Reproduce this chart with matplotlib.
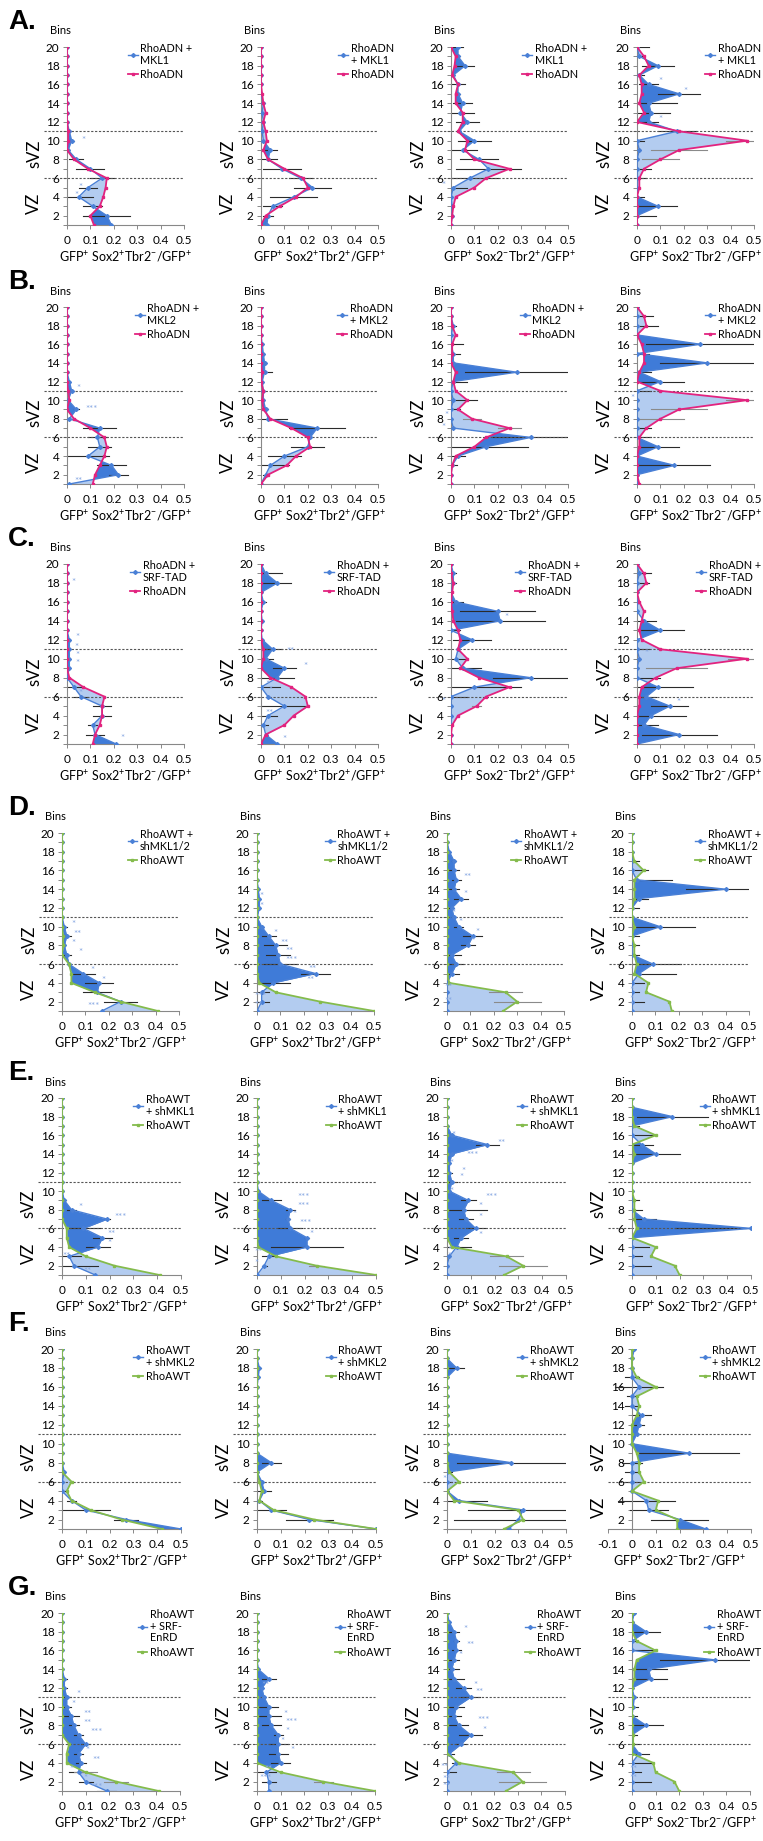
import numpy as np
import matplotlib
matplotlib.use('Agg')
import matplotlib.pyplot as plt
import matplotlib.transforms as mtransforms
from matplotlib.lines import Line2D

plt.rcParams['font.family'] = ['Lato', 'DejaVu Sans']
plt.rcParams['mathtext.fontset'] = 'custom'
plt.rcParams['mathtext.rm'] = 'Lato'
plt.rcParams['mathtext.default'] = 'regular'

# bins are listed top (20) to bottom (1)
bins = list(range(20, 0, -1))

xlabels = ['GFP$^{+}$ Sox2$^{+}$Tbr2$^{-}$/GFP$^{+}$',
           'GFP$^{+}$ Sox2$^{+}$Tbr2$^{+}$/GFP$^{+}$',
           'GFP$^{+}$ Sox2$^{-}$Tbr2$^{+}$/GFP$^{+}$',
           'GFP$^{+}$ Sox2$^{-}$Tbr2$^{-}$/GFP$^{+}$']
row_letters = ['A.', 'B.', 'C.', 'D.', 'E.', 'F.', 'G.']

# legend labels per row (treatment), per column
treat_labels = [
    ['RhoADN +\nMKL1', 'RhoADN\n+ MKL1', 'RhoADN +\nMKL1', 'RhoADN\n+ MKL1'],
    ['RhoADN +\nMKL2', 'RhoADN\n+ MKL2', 'RhoADN +\nMKL2', 'RhoADN\n+ MKL2'],
    ['RhoADN +\nSRF-TAD'] * 4,
    ['RhoAWT +\nshMKL1/2'] * 4,
    ['RhoAWT\n+ shMKL1'] * 4,
    ['RhoAWT\n+ shMKL2'] * 4,
    ['RhoAWT\n+ SRF-\nEnRD'] * 4,
]
ctrl_labels = ['RhoADN', 'RhoADN', 'RhoADN', 'RhoAWT', 'RhoAWT', 'RhoAWT', 'RhoAWT']

# ---------------- row A : RhoADN + MKL1 ----------------
A1_treat = [0,0,0,0,0,0,0,0,0,0.01,0.02,0.005,0.04,0.1,0.15,0.09,0.05,0.11,0.17,0.19]
A1_ctrl = [0,0,0,0,0,0,0,0,0,0.005,0.005,0,0.03,0.09,0.17,0.165,0.155,0.14,0.1,0.115]
A1_err = [0,0,0,0,0,0,0,0,0,0.005,0.01,0,0.03,0.06,0.05,0.04,0.06,0.04,0.1,0]
A1_stars = [(10, 0.06, '*'), (5, 0.05, '*'), (4.2, 0.03, '*')]

A2_treat = [0,0,0,0,0,0,0.01,0.005,0.01,0.005,0.01,0.04,0.03,0.09,0.17,0.22,0.14,0.05,0.03,0.025]
A2_ctrl = [0,0,0,0,0,0.005,0.01,0.02,0.01,0.02,0.025,0.01,0.03,0.1,0.18,0.2,0.15,0.08,0.02,0]
A2_err = [0,0,0,0,0,0,0.005,0.005,0,0,0,0.03,0.04,0.08,0.05,0.08,0.1,0.04,0.02,0]
A2_stars = []

A3_treat = [0.03,0.03,0.06,0.01,0.03,0.03,0.05,0.04,0.07,0.035,0.1,0.05,0.12,0.16,0.08,0.01,0,0.005,0.005,0]
A3_ctrl = [0,0.02,0.015,0.005,0.03,0.02,0.02,0.05,0.05,0.03,0.07,0.06,0.1,0.25,0.15,0.1,0.02,0.01,0.005,0]
A3_err = [0.02,0.01,0.04,0,0.03,0.01,0.04,0.06,0.05,0,0.07,0.06,0.08,0.14,0.12,0.06,0,0,0,0]
A3_stars = [(5.2, -0.04, '*')]

A4_treat = [0,0.01,0.09,0.01,0.05,0.18,0.05,0.06,0.05,0.17,0,0.01,0,0,0,0,0,0.09,0,0]
A4_ctrl = [0,0.03,0.05,0.01,0.02,0.02,0.01,0.03,0,0.18,0.47,0.18,0.1,0.03,0.01,0.01,0,0,0,0]
A4_err = [0.05,0.02,0.07,0.02,0.04,0.09,0.12,0.08,0.04,0.08,0.03,0,0,0.06,0.04,0,0.03,0.08,0.08,0]
A4_ctrl_err = {10: 0.09, 9: 0.12, 8: 0.08}
A4_stars = [(16.3, 0.09, '*'), (15.3, 0.2, '*'), (12.3, 0.09, '*')]

# ---------------- row B : RhoADN + MKL2 ----------------
B1_treat = [0,0,0,0,0,0,0,0,0.01,0.02,0.005,0.04,0.01,0.14,0.13,0.14,0.09,0.19,0.22,0.01]
B1_ctrl = [0,0,0,0,0,0,0,0,0,0.005,0.01,0,0.03,0.1,0.16,0.17,0.16,0.14,0.12,0.11]
B1_err = [0,0,0,0,0,0,0,0,0,0.01,0,0.01,0.02,0.07,0.04,0.05,0.09,0.06,0.04,0]
B1_stars = [(11.2, 0.04, '*'), (9, 0.08, '***'), (1.3, 0.03, '**')]

B2_treat = [0,0,0,0,0.005,0.01,0.015,0.015,0.005,0.01,0.01,0.02,0.03,0.24,0.21,0.2,0.1,0.04,0.02,0]
B2_ctrl = [0,0,0,0,0,0,0,0.005,0,0.01,0.005,0.01,0.04,0.13,0.2,0.21,0.15,0.11,0.03,0]
B2_err = [0,0,0,0,0,0,0.005,0.03,0,0,0,0.01,0.08,0.12,0,0.07,0.07,0.08,0.01,0]
B2_stars = []

B3_treat = [0,0,0.01,0,0,0.01,0.01,0.28,0.01,0,0.01,0,0,0.01,0.34,0.15,0.03,0.005,0,0]
B3_ctrl = [0,0,0.005,0.02,0.005,0.005,0,0.02,0.01,0.02,0.07,0.03,0.09,0.25,0.15,0.1,0.02,0.005,0,0]
B3_err = [0,0,0.01,0,0.05,0.03,0,0.22,0.06,0,0.1,0.04,0,0,0.16,0.18,0.03,0.02,0,0]
B3_ctrl_err = {8: 0.04, 7: 0.05}
B3_stars = [(8.3, -0.03, '*'), (7.1, -0.04, '*')]

B4_treat = [0,0,0,0,0.27,0,0.3,0.01,0.1,0,0,0,0,0,0,0.09,0,0.16,0,0]
B4_ctrl = [0,0.03,0.04,0,0.02,0.03,0.03,0.01,0,0.1,0.47,0.18,0.1,0.04,0.01,0.01,0,0,0,0.01]
B4_err = [0,0.07,0.09,0,0.23,0.05,0.2,0.05,0.1,0.06,0,0,0,0.06,0.06,0.09,0,0.15,0,0]
B4_ctrl_err = {10: 0.09, 9: 0.12, 8: 0.1}
B4_stars = [(10.2, -0.03, '*')]

# ---------------- row C : RhoADN + SRF-TAD ----------------
C1_treat = [0,0,0,0,0,0,0,0,0.01,0.01,0.01,0.01,0,0.03,0.06,0.15,0.15,0.11,0.12,0.21]
C1_ctrl = [0,0,0,0,0,0,0,0,0,0,0,0,0.01,0.07,0.16,0.15,0.15,0.14,0.12,0.11]
C1_err = [0,0,0,0,0,0,0,0,0,0,0,0,0,0.03,0.03,0.04,0.04,0.02,0.04,0]
C1_stars = [(18, 0.02, '*'), (12.2, 0.035, '*'), (11.2, 0.03, '*'), (10.3, 0.035, '*'),
            (9.5, 0.035, '*'), (6.3, 0.05, '*'), (1.6, 0.23, '*')]

C2_treat = [0,0.02,0.07,0,0.01,0,0.005,0,0.005,0.05,0.02,0.1,0.07,0,0.03,0.1,0.03,0.01,0.02,0.07]
C2_ctrl = [0,0,0,0,0,0,0,0,0,0.01,0.01,0,0.04,0.13,0.19,0.2,0.14,0.1,0.02,0]
C2_err = [0,0.07,0.06,0,0.01,0,0,0,0,0.04,0.03,0.05,0.07,0.08,0,0.1,0.04,0.02,0,0]
C2_stars = [(10.8, 0.11, '**'), (9.2, 0.18, '*'), (7.3, 0.02, '*'), (6.6, 0.03, '*'),
            (4.2, 0.02, '**'), (1.5, 0.09, '*')]

C3_treat = [0,0.01,0.01,0,0.02,0.2,0.21,0,0.09,0.03,0.02,0.05,0.34,0.1,0,0,0,0,0,0]
C3_ctrl = [0,0,0.01,0.005,0,0.005,0.01,0.03,0.04,0.03,0.07,0.04,0.12,0.25,0.15,0.11,0.03,0.005,0,0]
C3_err = [0,0.01,0.01,0,0.03,0.16,0.19,0.04,0.08,0,0.05,0.08,0.16,0.2,0.07,0,0,0,0,0]
C3_ctrl_err = {5: 0.02}
C3_stars = [(14.3, 0.23, '*'), (5.5, -0.04, '*')]

C4_treat = [0,0.01,0,0,0,0,0.03,0.1,0,0,0.01,0,0,0.09,0.04,0.14,0.06,0.03,0.18,0]
C4_ctrl = [0,0.03,0.04,0,0.01,0.03,0.02,0.01,0.02,0.1,0.47,0.17,0.08,0.02,0.01,0.01,0,0,0,0]
C4_err = [0,0.05,0.05,0,0,0,0.05,0.1,0,0.05,0,0,0.1,0.15,0.04,0.08,0.15,0.06,0.16,0]
C4_ctrl_err = {10: 0.08, 9: 0.13}
C4_stars = [(10.5, 0.03, '*'), (5.4, 0.17, '*')]

# ---------------- row D : RhoAWT + shMKL1/2 ----------------
D1_treat = [0,0,0,0,0,0,0,0,0,0,0.01,0.02,0.01,0.02,0.03,0.09,0.16,0.15,0.25,0.17]
D1_ctrl = [0,0,0,0,0,0,0,0,0,0,0,0.005,0.005,0,0.03,0.04,0.04,0.14,0.25,0.41]
D1_err = [0,0,0,0,0,0,0,0,0,0,0.01,0.02,0,0.02,0,0.05,0.06,0.06,0.07,0]
D1_stars = [(10.2, 0.04, '*'), (9.2, 0.05, '**'), (8.2, 0.04, '*'), (7.2, 0.07, '*'),
            (5.3, 0.12, '*'), (4.3, 0.17, '*'), (1.5, 0.11, '***')]

D2_treat = [0,0,0,0,0,0,0.005,0.01,0.01,0,0.02,0.05,0.08,0.09,0.1,0.25,0.07,0.02,0.02,0]
D2_ctrl = [0,0,0,0,0,0,0,0,0,0,0,0,0,0,0,0,0.01,0.08,0.27,0.5]
D2_err = [0,0,0,0,0,0,0,0,0,0,0,0.03,0.05,0.05,0.07,0.06,0.07,0.03,0.03,0]
D2_stars = [(13.2, 0.01, '*'), (12.2, 0.01, '*'), (9.3, 0.07, '*'), (8.2, 0.1, '**'),
            (7.3, 0.12, '**'), (6.4, 0.12, '***'), (5.4, 0.22, '**'), (4.3, 0.21, '**'),
            (2.6, -0.01, '***'), (1.6, -0.01, '**')]

D3_treat = [0,0,0.01,0.03,0.03,0.04,0.03,0.06,0.02,0.03,0.05,0.11,0.09,0.02,0.04,0.02,0,0,0,0]
D3_ctrl = [0,0,0,0,0,0,0,0,0,0,0,0,0,0,0,0,0.01,0.25,0.3,0.24]
D3_err = [0,0,0,0.01,0.02,0.02,0.02,0.03,0.01,0,0.02,0.04,0.03,0.04,0.03,0.03,0.01,0,0,0]
D3_ctrl_err = {3: 0.07, 2: 0.1}
D3_stars = [(15.3, 0.07, '**'), (13.4, 0.07, '*'), (11.4, 0.02, '*'), (10.4, 0.05, '*'),
            (9.4, 0.12, '*'), (8.4, 0.1, '*'), (3.5, -0.01, '**'), (2, -0.01, '**')]

D4_treat = [0,0,0,0,0,0.02,0.4,0.03,0,0,0.12,0,0,0,0.09,0.03,0,0,0,0]
D4_ctrl = [0,0,0,0.01,0.05,0.01,0.01,0.01,0,0,0.01,0,0.01,0.01,0.02,0.01,0.07,0.06,0.16,0.17]
D4_err = [0,0,0,0.03,0.07,0.15,0.17,0.04,0.03,0,0.15,0.03,0.03,0.03,0.12,0.16,0.05,0.03,0.05,0]
D4_stars = [(3.2, -0.01, '*'), (2.2, -0.01, '*'), (1.6, -0.01, '*')]

# ---------------- row E : RhoAWT + shMKL1 ----------------
E1_treat = [0,0,0,0,0,0,0,0,0,0,0,0.01,0.04,0.19,0.09,0.17,0.15,0.03,0.05,0.14]
E1_ctrl = [0,0,0,0,0,0,0,0,0,0,0,0,0,0,0.02,0.02,0.03,0.1,0.22,0.41]
E1_err = [0,0,0,0,0,0,0,0,0,0,0,0.005,0.02,0.01,0.07,0.04,0.05,0.05,0.1,0]
E1_stars = [(8.2, 0.07, '*'), (7.2, 0.22, '***'), (5.3, 0.19, '**'), (4.4, 0.19, '*'),
            (3, 0.0, '**'), (1.4, 0.09, '**')]

E2_treat = [0,0,0,0,0,0,0,0,0,0,0.005,0.06,0.14,0.13,0.14,0.21,0.21,0.05,0.03,0]
E2_ctrl = [0,0,0,0,0,0,0,0,0,0,0,0,0,0,0,0,0.005,0.08,0.25,0.5]
E2_err = [0,0,0,0,0,0,0,0,0,0,0,0.04,0.02,0.01,0.05,0.01,0.15,0.03,0.01,0]
E2_ctrl_err = {2: 0.03}
E2_stars = [(9.3, 0.17, '***'), (8.3, 0.17, '***'), (7.5, 0.15, '*'), (6.5, 0.18, '***'),
            (5.4, 0.22, '*'), (3.4, -0.01, '**'), (2.2, -0.01, '*')]

E3_treat = [0,0,0,0,0.02,0.17,0.02,0.01,0.01,0.02,0.01,0.09,0.07,0.08,0.12,0.06,0.04,0.01,0,0]
E3_ctrl = [0,0,0,0,0,0,0,0,0,0,0,0,0,0,0,0,0.02,0.25,0.32,0.24]
E3_err = [0,0,0,0,0,0.05,0,0,0.01,0.02,0,0.03,0.1,0.03,0.04,0.03,0.06,0,0,0]
E3_ctrl_err = {3: 0.07, 2: 0.1}
E3_stars = [(16, 0.02, '*'), (15.1, 0.21, '**'), (13.8, 0.08, '***'), (13, 0.01, '*'),
            (12.1, 0.06, '*'), (11.5, 0.05, '*'), (10, 0.01, '*'), (9.3, 0.16, '***'),
            (8.3, 0.13, '*'), (7.2, 0.13, '*'), (5.2, 0.13, '*'), (3.6, 0.0, '*'), (3, 0.0, '*')]

E4_treat = [0,0,0.17,0,0,0.04,0.1,0,0,0,0,0,0,0.05,0.5,0,0,0,0,0]
E4_ctrl = [0,0,0,0.01,0.1,0,0.01,0,0,0,0,0.01,0.01,0.01,0.02,0,0.1,0.08,0.18,0.2]
E4_err = [0,0,0.15,0.03,0.1,0.05,0.1,0,0,0,0,0.03,0.04,0.05,0.32,0,0.07,0.04,0.08,0]
E4_stars = []

# ---------------- row F : RhoAWT + shMKL2 ----------------
F1_treat = [0,0,0,0,0,0,0,0,0,0,0,0,0,0.01,0,0,0.04,0.1,0.27,0.5]
F1_ctrl = [0,0,0,0,0,0,0,0,0,0,0,0,0,0,0.04,0.02,0.04,0.12,0.25,0.42]
F1_err = [0,0,0,0,0,0,0,0,0,0,0,0.005,0,0,0.01,0.02,0.02,0.1,0.05,0]
F1_stars = []

F2_treat = [0,0,0.01,0.005,0,0,0,0,0,0,0,0,0.06,0,0.02,0.03,0.01,0.06,0.22,0.5]
F2_ctrl = [0,0,0,0,0,0,0,0,0,0,0,0,0,0,0.01,0.02,0.01,0.07,0.24,0.5]
F2_err = [0,0,0.005,0.005,0,0,0,0,0,0,0,0,0.04,0,0,0.03,0.01,0.06,0.1,0]
F2_stars = []

F3_treat = [0,0,0.04,0,0,0,0,0,0,0,0,0,0.27,0,0,0,0.05,0.32,0.3,0.26]
F3_ctrl = [0,0,0,0,0,0,0,0,0,0,0,0,0,0.01,0.05,0,0.03,0.3,0.32,0.24]
F3_err = [0,0,0.03,0,0,0,0,0,0,0,0,0,0.23,0.02,0.02,0,0.12,0.23,0.27,0]
F3_stars = [(6.2, -0.02, '*')]

F4_treat = [0.01,0,0,0,0.03,0,0,0.04,0.03,0.02,0,0.24,0,0,0,0,0.06,0.07,0.2,0.31]
F4_ctrl = [0,0,0,0.02,0.1,0.02,0.03,0.02,0,0,0,0.02,0.03,0.03,0.05,0,0.11,0.1,0.19,0.19]
F4_err = [0,0,0,0.03,0.1,0.02,0.03,0.04,0.02,0,0,0.21,0.04,0.03,0.03,0,0.12,0.08,0.12,0]
F4_stars = []

# ---------------- row G : RhoAWT + SRF-EnRD ----------------
G1_treat = [0,0,0,0,0,0,0,0.01,0.01,0.02,0.02,0.04,0.05,0.07,0.1,0.07,0.08,0.07,0.1,0.19]
G1_ctrl = [0,0,0,0,0,0,0,0,0,0,0,0,0,0,0.03,0.02,0.02,0.1,0.23,0.41]
G1_err = [0,0,0,0,0,0,0,0.01,0.01,0.02,0.02,0.03,0.02,0.02,0.02,0.02,0.02,0.04,0.03,0.04]
G1_ctrl_err = {3: 0.05, 2: 0.05}
G1_stars = [(11.3, 0.06, '*'), (10.2, 0.04, '*'), (9.2, 0.09, '**'), (8.2, 0.09, '**'),
            (7.2, 0.12, '***'), (5.3, 0.1, '*'), (4.3, 0.13, '**'), (3.3, 0.03, '*'),
            (2.3, 0.09, '*'), (1.4, 0.12, '***')]

G2_treat = [0,0,0,0,0,0,0.005,0.05,0.02,0.03,0.05,0.05,0.06,0.09,0.09,0.09,0.1,0.04,0.05,0.05]
G2_ctrl = [0,0,0,0,0,0,0,0,0,0,0,0,0,0,0,0,0,0.1,0.28,0.5]
G2_err = [0,0,0,0,0,0,0,0.03,0,0,0.04,0.05,0.04,0.02,0.04,0.04,0.04,0.04,0.03,0]
G2_ctrl_err = {2: 0.04}
G2_stars = [(12.3, 0.02, '**'), (9.2, 0.11, '*'), (8.3, 0.12, '***'), (7.3, 0.12, '*'),
            (6.3, 0.1, '*'), (5.3, 0.14, '*'), (3.3, 0.03, '**'), (2.3, 0.01, '***')]

G3_treat = [0,0.01,0.03,0.04,0.04,0.03,0.02,0.03,0.07,0.1,0.04,0.03,0.05,0.1,0.06,0.01,0.04,0,0,0]
G3_ctrl = [0,0,0,0,0,0,0,0,0,0,0,0,0,0,0,0,0.05,0.28,0.32,0.25]
G3_err = [0,0,0.02,0.01,0.02,0.02,0.03,0.04,0.03,0.04,0.03,0.03,0.04,0.05,0.02,0.02,0.02,0.04,0,0]
G3_ctrl_err = {3: 0.07, 2: 0.1}
G3_stars = [(18.2, 0.07, '*'), (16.5, 0.08, '**'), (15.5, 0.05, '*'), (12.3, 0.11, '*'),
            (11.5, 0.12, '**'), (8.5, 0.13, '***'), (7.5, 0.15, '*'), (3.5, -0.03, '**'),
            (2.2, -0.02, '**'), (1.5, -0.02, '**')]

G4_treat = [0.01,0,0.06,0,0,0.35,0.07,0.08,0,0.01,0.005,0,0.06,0,0,0.03,0,0,0,0]
G4_ctrl = [0,0,0,0.02,0.1,0.02,0.01,0.01,0,0,0,0,0,0.005,0.005,0,0.09,0.1,0.18,0.2]
G4_err = [0,0,0.06,0.02,0.1,0.23,0.08,0.07,0,0.01,0.02,0.02,0.07,0.02,0.03,0.04,0.08,0.04,0.08,0]
G4_stars = [(3.3, -0.01, '**'), (2.3, -0.01, '**')]

panels = [
    [(A1_treat, A1_ctrl, A1_err, {}, A1_stars), (A2_treat, A2_ctrl, A2_err, {}, A2_stars),
     (A3_treat, A3_ctrl, A3_err, {}, A3_stars), (A4_treat, A4_ctrl, A4_err, A4_ctrl_err, A4_stars)],
    [(B1_treat, B1_ctrl, B1_err, {}, B1_stars), (B2_treat, B2_ctrl, B2_err, {}, B2_stars),
     (B3_treat, B3_ctrl, B3_err, B3_ctrl_err, B3_stars), (B4_treat, B4_ctrl, B4_err, B4_ctrl_err, B4_stars)],
    [(C1_treat, C1_ctrl, C1_err, {}, C1_stars), (C2_treat, C2_ctrl, C2_err, {}, C2_stars),
     (C3_treat, C3_ctrl, C3_err, C3_ctrl_err, C3_stars), (C4_treat, C4_ctrl, C4_err, C4_ctrl_err, C4_stars)],
    [(D1_treat, D1_ctrl, D1_err, {}, D1_stars), (D2_treat, D2_ctrl, D2_err, {}, D2_stars),
     (D3_treat, D3_ctrl, D3_err, D3_ctrl_err, D3_stars), (D4_treat, D4_ctrl, D4_err, {}, D4_stars)],
    [(E1_treat, E1_ctrl, E1_err, {}, E1_stars), (E2_treat, E2_ctrl, E2_err, E2_ctrl_err, E2_stars),
     (E3_treat, E3_ctrl, E3_err, E3_ctrl_err, E3_stars), (E4_treat, E4_ctrl, E4_err, {}, E4_stars)],
    [(F1_treat, F1_ctrl, F1_err, {}, F1_stars), (F2_treat, F2_ctrl, F2_err, {}, F2_stars),
     (F3_treat, F3_ctrl, F3_err, {}, F3_stars), (F4_treat, F4_ctrl, F4_err, {}, F4_stars)],
    [(G1_treat, G1_ctrl, G1_err, G1_ctrl_err, G1_stars), (G2_treat, G2_ctrl, G2_err, G2_ctrl_err, G2_stars),
     (G3_treat, G3_ctrl, G3_err, G3_ctrl_err, G3_stars), (G4_treat, G4_ctrl, G4_err, {}, G4_stars)],
]

# colours
DARK = '#3f7bd8'
LIGHT = '#b3ccf0'
BLUE = '#4a80d6'
PINK = '#e2237f'
GREEN = '#84bb4c'
STAR = '#86a7e2'

# layout in pixels (figure is 763 x 1841)
W, H = 763, 1841
row_top = [47, 307, 564, 833, 1098, 1349, 1613]
row_bot = [225, 484, 744, 1011, 1275, 1529, 1791]
col_zero_abc = [67, 261, 451, 637]
col_zero_dg = [62, 257, 447, 632]
px_per_half = [117, 117, 117, 117, 119, 119, 118]
# left edge of each legend, as a fraction of the axes width (last column is right-aligned)
legend_x = [[0.52, 0.66, 0.61],
            [0.58, 0.65, 0.59],
            [0.54, 0.54, 0.55],
            [0.56, 0.58, 0.55],
            [0.60, 0.58, 0.59],
            [0.60, 0.58, 0.59],
            [0.64, 0.66, 0.66]]
LEGEND_RIGHT_PX = 761

fig = plt.figure(figsize=(W / 100, H / 100), dpi=100)

for r in range(7):
    zeros = col_zero_abc if r < 3 else col_zero_dg
    ctrl_color = PINK if r < 3 else GREEN
    for c in range(4):
        treat, ctrl, err, ctrl_err, stars = panels[r][c]
        xmin = -0.1 if (r == 5 and c == 3) else 0.0
        scale = px_per_half[r] / 0.5
        left = zeros[c] + xmin * scale
        width = (0.5 - xmin) * scale
        ax = fig.add_axes([left / W, 1 - row_bot[r] / H, width / W, (row_bot[r] - row_top[r]) / H])

        y = np.array(bins, dtype=float)
        t = np.array(treat, dtype=float)
        k = np.array(ctrl, dtype=float)
        ax.fill_betweenx(y, t, k, where=t >= k, interpolate=True, color=DARK, lw=0, zorder=1)
        ax.fill_betweenx(y, t, k, where=t < k, interpolate=True, color=LIGHT, lw=0, zorder=1)

        for b, v, e in zip(bins, treat, err):
            if e > 0:
                ax.plot([v - e, v + e], [b, b], color='#2b2b2b', lw=0.8, zorder=2)
        for b, e in ctrl_err.items():
            v = ctrl[bins.index(b)]
            ax.plot([v - e, v + e], [b, b], color='#8a8a8a', lw=0.8, zorder=2)

        ax.plot(t, y, color=BLUE, lw=1.0, marker='D', ms=2, zorder=3)
        ax.plot(k, y, color=ctrl_color, lw=1.3, marker='s', ms=1.8, zorder=4)

        for b, xs, s in stars:
            ax.text(xs, b, s, color=STAR, fontsize=7, ha='left', va='center', zorder=5)

        ax.set_xlim(xmin, 0.5)
        ax.set_ylim(1, 20)
        ticks = np.round(np.arange(xmin, 0.51, 0.1), 1)
        ax.set_xticks(ticks)
        ax.set_xticklabels(['0' if v == 0 else f'{v:g}' for v in ticks])
        ax.set_yticks(range(2, 21, 2))
        ax.set_yticks(range(1, 21), minor=True)
        ax.tick_params(axis='both', which='both', labelsize=8.5, length=3, width=0.7,
                       color='#888888', pad=2.5)
        ax.tick_params(axis='x', pad=4)
        for s in ['top', 'right']:
            ax.spines[s].set_visible(False)
        ax.spines['left'].set_position(('data', 0))
        ax.spines['left'].set_color('#888888')
        ax.spines['bottom'].set_color('#888888')
        ax.spines['left'].set_linewidth(0.8)
        ax.spines['bottom'].set_linewidth(0.8)
        ax.set_xlabel(xlabels[c], fontsize=9, labelpad=3)

        trans = mtransforms.blended_transform_factory(ax.transData, ax.transAxes)
        for yy in [11, 6]:
            ax.plot([-0.1, 0.5], [yy, yy], color='#555555', lw=0.8, ls=(0, (2, 1.5)),
                    clip_on=False, zorder=2)
        ax.text(-0.026, 1.09, 'Bins', transform=trans, fontsize=8, ha='center', va='center')
        ax.text(-0.14, 8.6, 'sVZ', fontsize=12, rotation=90, ha='center', va='center')
        ax.text(-0.14, 3.3, 'VZ', fontsize=12, rotation=90, ha='center', va='center')

        handles = [Line2D([], [], color=BLUE, lw=1.0, marker='D', ms=2),
                   Line2D([], [], color=ctrl_color, lw=1.3, marker='s', ms=1.8)]
        if c < 3:
            loc, anchor = 'upper left', (legend_x[r][c], 1.02)
        else:
            loc, anchor = 'upper right', ((LEGEND_RIGHT_PX - left) / width, 1.02)
        leg = ax.legend(handles, [treat_labels[r][c], ctrl_labels[r]], loc=loc,
                        bbox_to_anchor=anchor, frameon=False, fontsize=7.8,
                        handlelength=0.9, handletextpad=0.25, labelspacing=0.3,
                        borderpad=0, borderaxespad=0)
        for txt in leg.get_texts():
            txt.set_linespacing(1.05)

    fig.text(8 / W, 1 - (row_top[r] - 25) / H, row_letters[r], fontsize=20,
             fontweight='bold', family='Liberation Sans', ha='left', va='center')

fig.savefig('out.png', dpi=100)
